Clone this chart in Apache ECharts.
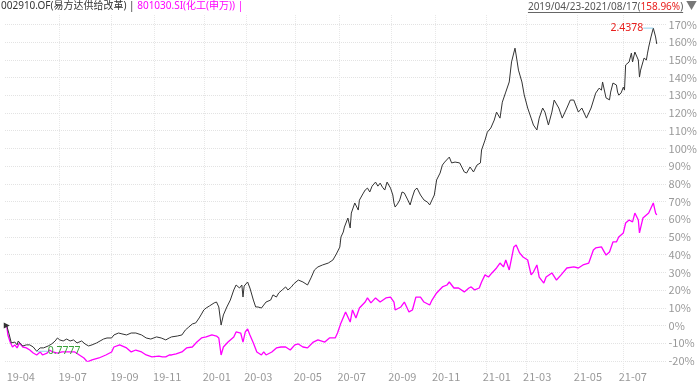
<!DOCTYPE html>
<html><head><meta charset="utf-8">
<script src="https://cdn.jsdelivr.net/npm/echarts@6/dist/echarts.min.js"></script>
<style>html,body{margin:0;padding:0;background:#fff}#c{width:700px;height:387px}</style>
</head><body><div id="c"></div>
<script>
// ---------- data ----------
const fundName = '002910.OF(易方达供给改革)';
const indexName = '801030.SI(化工(申万))';
const startDate = '2019/04/23';
const endDate = '2021/08/17';
const periodReturn = 158.96;     // %
const maxNav = 2.4378;
const minNav = 0.7777;

// x axis = trading-day index since 2019-04-23
const tickDays = [0, 45, 90, 127, 170, 206, 249, 287, 331, 369, 413, 448, 492, 531];
const tickLabels = ['19-04','19-07','19-09','19-11','20-01','20-03','20-05','20-07','20-09','20-11','21-01','21-03','21-05','21-07'];

const fundDays = [0,2,4,7,9,10,12,14,17,20,23,26,29,32,36,39,42,44,46,49,52,55,58,61,65,68,71,74,78,81,84,87,91,93,97,100,104,108,112,117,121,125,130,134,138,141,143,148,152,155,158,161,164,167,169,171,173,176,180,182,184,186,188,191,194,197,199,202,204,205,206,209,211,214,216,218,221,223,225,229,231,234,236,239,242,244,247,249,253,257,261,264,267,270,274,279,283,286,289,290,292,293,296,298,299,302,305,306,309,311,313,315,317,320,322,324,326,328,330,333,335,336,337,339,341,343,345,348,350,352,354,356,359,362,365,367,369,371,373,376,378,380,384,386,389,393,397,399,402,405,408,411,412,415,417,420,423,425,428,430,433,436,438,441,442,444,447,449,452,455,457,460,462,465,467,470,473,475,479,482,486,489,492,496,499,503,507,511,514,516,517,520,523,524,526,527,529,530,531,533,535,536,537,540,542,543,545,548,549,550,552,553,555,556,557,559,561,562,563,564];
const fundRet = [0,-4.7,-9.8,-9.3,-10.9,-8.7,-10.4,-11.5,-10.9,-10.9,-12.1,-14.5,-12.6,-12.6,-11.5,-10.4,-8.7,-7.0,-8.1,-8.7,-7.6,-8.7,-8.1,-9.8,-8.7,-10.4,-11.5,-10.9,-9.8,-8.7,-7.6,-7.0,-7.0,-5.3,-4.2,-4.7,-5.3,-4.2,-4.2,-5.3,-7.0,-7.6,-6.4,-7.0,-8.1,-7.0,-6.4,-5.9,-5.3,-2.5,-0.8,0.9,1.5,4.3,6.5,8.8,9.9,11.1,12.8,13.3,10.5,0.3,6.0,10.5,14.4,20.1,22.9,21.2,22.9,16.1,22.3,24.6,21.2,14.4,10.5,10.5,9.9,11.6,13.3,14.4,17.3,16.1,18.4,20.1,21.8,20.1,21.8,23.5,25.7,24.6,22.9,26.9,31.4,33.1,34.2,35.3,37.0,40.4,44.3,50.0,52.8,55.6,60.7,55.1,63.5,69.2,65.2,70.8,74.3,76.5,77.6,75.4,78.7,81.0,78.7,80.4,78.1,76.5,81.0,77.6,73.7,69.2,66.9,68.6,70.9,75.4,74.8,70.9,68.1,72.6,76.5,77.6,73.7,70.9,69.7,68.1,70.9,73.7,82.2,86.1,90.6,92.3,95.1,91.8,92.3,91.8,86.7,86.1,89.5,86.7,90.6,91.8,99.1,104.7,109.2,111.5,116.0,120.5,117.1,126.1,131.8,137.5,148.8,156.6,152.7,144.2,137.5,130.2,122.8,117.1,113.2,110.4,117.1,122.8,120.5,113.2,120.5,127.3,122.8,117.1,122.8,127.3,127.3,120.5,122.8,117.1,122.8,131.2,134.0,132.9,137.5,128.5,127.4,131.8,136.9,137.5,135.8,131.8,130.1,131.2,134.6,132.9,147.1,148.8,153.8,148.8,154.4,149.9,140.3,144.2,148.8,151.0,149.9,153.8,157.2,162.9,167.9,166.8,162.9,158.96];

const indexDays = [0,1,3,5,7,9,11,14,17,20,23,26,29,31,35,37,40,44,48,53,59,63,67,70,74,80,86,91,93,98,104,108,112,117,121,126,132,135,138,141,143,147,152,156,161,165,169,173,178,182,184,186,188,192,197,199,203,205,207,209,211,214,217,221,223,225,230,234,238,242,246,250,253,257,261,266,270,276,280,285,287,290,294,298,300,303,306,311,313,316,320,324,329,333,336,337,342,345,349,352,355,359,362,367,369,373,378,382,384,388,392,397,401,403,406,410,412,415,418,421,425,428,431,433,436,440,442,445,448,452,455,457,460,462,466,468,473,477,481,486,492,496,500,505,509,511,516,520,523,526,529,531,535,537,540,543,545,548,549,550,552,555,557,561,562,563,564];
const indexRet = [0,-5.3,-9.3,-12.1,-10.9,-12.6,-9.8,-12.1,-12.6,-13.8,-15.5,-16.6,-14.9,-16.6,-15.5,-13.8,-14.9,-15.5,-14.9,-14.9,-14.9,-16.6,-18.3,-20.5,-19.4,-18.3,-16.6,-14.9,-12.1,-10.9,-12.6,-14.9,-13.8,-14.9,-16.6,-17.7,-17.2,-17.7,-17.7,-16.6,-16.6,-16.0,-14.9,-12.6,-12.1,-9.3,-7.0,-6.4,-5.3,-5.9,-7.0,-16.6,-12.1,-9.3,-6.4,-3.6,-4.2,-9.3,-3.6,-1.9,-5.3,-9.8,-14.9,-16.6,-14.9,-16.6,-14.9,-12.6,-12.1,-12.1,-13.8,-10.9,-10.4,-12.1,-12.6,-9.3,-8.1,-9.3,-7.0,-7.0,-4.2,1.5,7.7,2.0,8.8,4.3,9.9,13.3,15.6,12.8,15.6,13.3,15.6,16.1,13.3,8.8,10.5,13.3,7.7,8.8,16.1,16.1,13.3,11.6,14.4,18.4,21.8,22.9,24.6,21.2,21.2,19.0,21.2,21.8,20.1,21.2,24.6,28.6,27.4,29.7,32.5,35.3,33.1,37.0,31.4,44.4,45.5,41.0,38.7,37.0,28.6,30.2,34.2,27.4,24.0,27.4,29.7,25.7,28.6,32.5,33.1,32.5,34.2,35.3,42.7,43.8,44.4,39.8,41.5,47.2,47.2,50.0,52.3,57.9,59.6,58.5,63.5,59.6,52.3,55.1,60.7,62.4,63.5,69.2,69.7,63.5,62.4];

// ---------- chart ----------
const FONT = '"Noto Sans CJK SC", "Noto Sans", sans-serif';
const HFONT = '"Noto Sans", "Noto Sans CJK SC", sans-serif';
const X_MIN = -1.5, X_MAX = 572.5;
const chart = echarts.init(document.getElementById('c'), null, {renderer: 'canvas'});

const pairs = (xs, ys) => xs.map((x, i) => [x, ys[i]]);

// underline width for right header
const ctx = document.createElement('canvas').getContext('2d');
ctx.font = '10px ' + HFONT;
const hdrA = startDate + '-' + endDate + '(';
const hdrB = periodReturn.toFixed(2) + '%';
const hdrC = ')';
const hdrT = ' ▼';
const wA = ctx.measureText(hdrA).width, wB = ctx.measureText(hdrB).width, wC = ctx.measureText(hdrC).width;
ctx.font = '11px ' + HFONT;
const wT = ctx.measureText(hdrT).width;
const rightEdge = 697;
const ulX2 = rightEdge - wT;
const ulX1 = ulX2 - (wA + wB + wC);

const option = {
  animation: false,
  textStyle: {fontFamily: FONT},
  grid: [
    {left: 5, right: 29, top: 24.4, bottom: 26},
    {left: 5, right: 29, top: 15, bottom: 15}
  ],
  xAxis: [
    {
      type: 'value', gridIndex: 0, min: X_MIN, max: X_MAX,
      axisLine: {show: false}, axisTick: {show: false, customValues: tickDays},
      splitLine: {show: false},
      axisLabel: {
        customValues: tickDays, align: 'left', color: '#999', fontSize: 11, margin: 10,
        fontFamily: FONT,
        formatter: v => tickLabels[tickDays.indexOf(v)] || ''
      }
    },
    {
      type: 'value', gridIndex: 1, min: X_MIN, max: X_MAX,
      axisLine: {show: false}, axisTick: {show: false, customValues: tickDays.slice(1)},
      axisLabel: {show: false, customValues: tickDays.slice(1)},
      splitLine: {show: true, lineStyle: {color: '#e8e8e8', type: 'dotted', width: 1}}
    }
  ],
  yAxis: [
    {
      type: 'value', gridIndex: 0, position: 'right', min: -20, max: 170, interval: 10,
      axisLine: {show: false}, axisTick: {show: false},
      axisLabel: {formatter: '{value}%', color: '#999', fontSize: 11, margin: 2, fontFamily: FONT},
      splitLine: {show: true, lineStyle: {color: '#e3e3e3', type: 'dotted', width: 1}}
    },
    {type: 'value', gridIndex: 1, min: 0, max: 1, show: false, splitLine: {show: false}}
  ],
  series: [
    {
      name: indexName, type: 'line', xAxisIndex: 0, yAxisIndex: 0,
      data: pairs(indexDays, indexRet), showSymbol: false, symbol: 'none',
      lineStyle: {color: '#ff00ff', width: 1.3}, z: 2
    },
    {
      name: fundName, type: 'line', xAxisIndex: 0, yAxisIndex: 0,
      data: pairs(fundDays, fundRet), showSymbol: false, symbol: 'none',
      lineStyle: {color: '#333', width: 1}, z: 3,
      markPoint: {
        silent: true,
        data: [
          {type: 'max', valueIndex: 1, symbol: 'rect', symbolSize: [10, 1], symbolOffset: [-5, 0],
           itemStyle: {color: '#8fd0ec'},
           label: {show: true, position: 'left', distance: 0, formatter: String(maxNav), color: '#e8201e', fontSize: 10.5, fontFamily: HFONT}},
          {type: 'min', valueIndex: 1, symbol: 'rect', symbolSize: [11, 1], symbolOffset: [5.5, 0],
           itemStyle: {color: '#8fd0ec'},
           label: {show: true, position: 'right', distance: 0, formatter: String(minNav), color: '#3aa23a', fontSize: 10.5, fontFamily: HFONT}},
          {coord: [fundDays[0], fundRet[0]], symbol: 'triangle', symbolSize: [6, 6], symbolRotate: -90,
           itemStyle: {color: '#333'}, label: {show: false}}
        ]
      }
    }
  ],
  graphic: [
    {
      type: 'text', x: 1, y: 1.5, silent: true,
      style: {
        text: '{a|' + fundName + ' | }{b|' + indexName + ' |}',
        align: 'left', verticalAlign: 'top',
        rich: {
          a: {fill: '#333', fontSize: 10, fontFamily: HFONT},
          b: {fill: '#ff00ff', fontSize: 10, fontFamily: HFONT}
        }
      }
    },
    {
      type: 'text', x: rightEdge, y: 1.5, silent: true,
      style: {
        text: '{d|' + hdrA + '}{r|' + hdrB + '}{d|' + hdrC + '}{t|' + hdrT + '}',
        align: 'right', verticalAlign: 'top',
        rich: {
          d: {fill: '#555', fontSize: 10, fontFamily: HFONT},
          r: {fill: '#e8201e', fontSize: 10, fontFamily: HFONT},
          t: {fill: '#777', fontSize: 11, fontFamily: HFONT}
        }
      }
    },
    {
      type: 'line', silent: true,
      shape: {x1: ulX1, y1: 12.5, x2: ulX2, y2: 12.5},
      style: {stroke: '#666', lineWidth: 1}
    }
  ]
};
chart.setOption(option);
</script>
</body></html>
